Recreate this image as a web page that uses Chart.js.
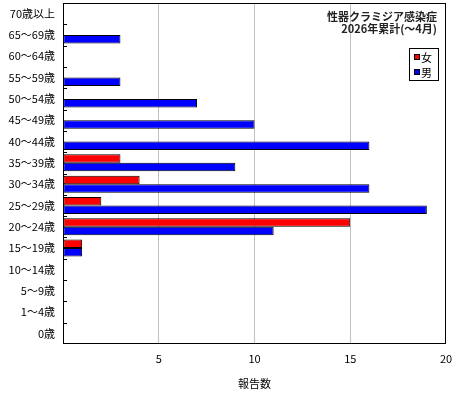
<!DOCTYPE html>
<html>
<head>
<meta charset="utf-8">
<script src="https://cdn.jsdelivr.net/npm/chart.js@4/dist/chart.umd.min.js"></script>
<style>
html,body{margin:0;padding:0;background:#fff;}
#wrap{width:460px;height:400px;}
</style>
</head>
<body>
<div id="wrap"><canvas id="c" width="460" height="400"></canvas></div>
<script>
const categories = ['70歳以上','65〜69歳','60〜64歳','55〜59歳','50〜54歳','45〜49歳','40〜44歳','35〜39歳','30〜34歳','25〜29歳','20〜24歳','15〜19歳','10〜14歳','5〜9歳','1〜4歳','0歳'];
const female = [0,0,0,0,0,0,0,3,4,2,15,1,0,0,0,0];
const male   = [0,3,0,3,7,10,16,9,16,19,11,1,0,0,0,0];
const seriesNames = ['女','男'];
const xTicks = [5,10,15,20];
const titleLines = ['性器クラミジア感染症','2026年累計(〜4月)'];
const axisTitle = '報告数';

const FONT = '"Noto Sans CJK JP", "Noto Sans", sans-serif';

const framePlugin = {
  id: 'frame',
  afterDraw(chart) {
    const {ctx, chartArea: a} = chart;
    const y = chart.scales.y;
    ctx.save();
    ctx.strokeStyle = '#000';
    ctx.lineWidth = 1;
    ctx.strokeRect(Math.round(a.left) + 0.5, Math.round(a.top) + 0.5, Math.round(a.right - a.left) - 1, Math.round(a.bottom - a.top) - 1);
    const n = categories.length;
    for (let i = 1; i < n; i++) {
      const p = (y.getPixelForValue(i - 1) + y.getPixelForValue(i)) / 2;
      const py = Math.round(p) + 0.5;
      ctx.beginPath();
      ctx.moveTo(Math.round(a.left), py);
      ctx.lineTo(Math.round(a.left) + 4, py);
      ctx.stroke();
    }
    ctx.fillStyle = '#222';
    ctx.font = 'bold 11px ' + FONT;
    ctx.textAlign = 'right';
    ctx.textBaseline = 'middle';
    ctx.fillText(titleLines[0], 437, 17);
    ctx.fillText(titleLines[1], 437, 29);
    const lx = 409, ly = 48, lw = 29, lh = 32;
    ctx.fillStyle = '#fff';
    ctx.fillRect(lx, ly, lw, lh);
    ctx.strokeStyle = '#000';
    ctx.strokeRect(lx + 0.5, ly + 0.5, lw, lh);
    ctx.font = '11px ' + FONT;
    ctx.textAlign = 'left';
    chart.data.datasets.forEach((ds, i) => {
      const cy = ly + 9 + i * 15;
      ctx.fillStyle = ds.backgroundColor;
      ctx.fillRect(lx + 5, cy - 2, 5, 5);
      ctx.strokeStyle = '#000';
      ctx.strokeRect(lx + 5.5, cy - 2.5, 5, 5);
      ctx.fillStyle = '#000';
      ctx.fillText(ds.label, lx + 12, cy + 1);
    });
    ctx.restore();
  }
};

new Chart(document.getElementById('c'), {
  type: 'bar',
  data: {
    labels: categories,
    datasets: [
      {label: seriesNames[0], data: female, backgroundColor: '#ff0000', borderColor: '#000', borderWidth: 1, borderSkipped: false},
      {label: seriesNames[1], data: male, backgroundColor: '#0000ff', borderColor: '#000', borderWidth: 1, borderSkipped: false}
    ]
  },
  options: {
    indexAxis: 'y',
    responsive: false,
    animation: false,
    devicePixelRatio: 1,
    layout: {padding: {top: 3, right: 14, left: 0, bottom: 0}},
    datasets: {bar: {categoryPercentage: 0.8, barPercentage: 1.0}},
    plugins: {legend: {display: false}, tooltip: {enabled: false}, title: {display: false}},
    scales: {
      x: {
        min: 0, max: 20,
        afterFit(s) { s.height = 56; s.paddingLeft = 0; s.paddingRight = 0; },
        afterBuildTicks(s) { s.ticks = [0].concat(xTicks).map(v => ({value: v})); },
        ticks: {
          color: '#000', padding: 8,
          font: {family: FONT, size: 11},
          callback: v => (v === 0 ? '' : String(v)),
          maxRotation: 0, autoSkip: false
        },
        grid: {
          drawTicks: false,
          color: ctx => (ctx.tick && (ctx.tick.value === 0 || ctx.tick.value === 20) ? 'rgba(0,0,0,0)' : '#c0c0c0'),
          lineWidth: 1
        },
        border: {display: false},
        title: {display: true, text: axisTitle, color: '#000', font: {family: FONT, size: 11}, padding: {top: 11, bottom: 10}}
      },
      y: {
        afterFit(s) { s.width = 63; s.paddingTop = 0; s.paddingBottom = 0; },
        ticks: {color: '#000', padding: 8, font: {family: FONT, size: 11}, autoSkip: false},
        grid: {display: false, drawTicks: false},
        border: {display: false}
      }
    }
  },
  plugins: [framePlugin]
});
</script>
</body>
</html>
